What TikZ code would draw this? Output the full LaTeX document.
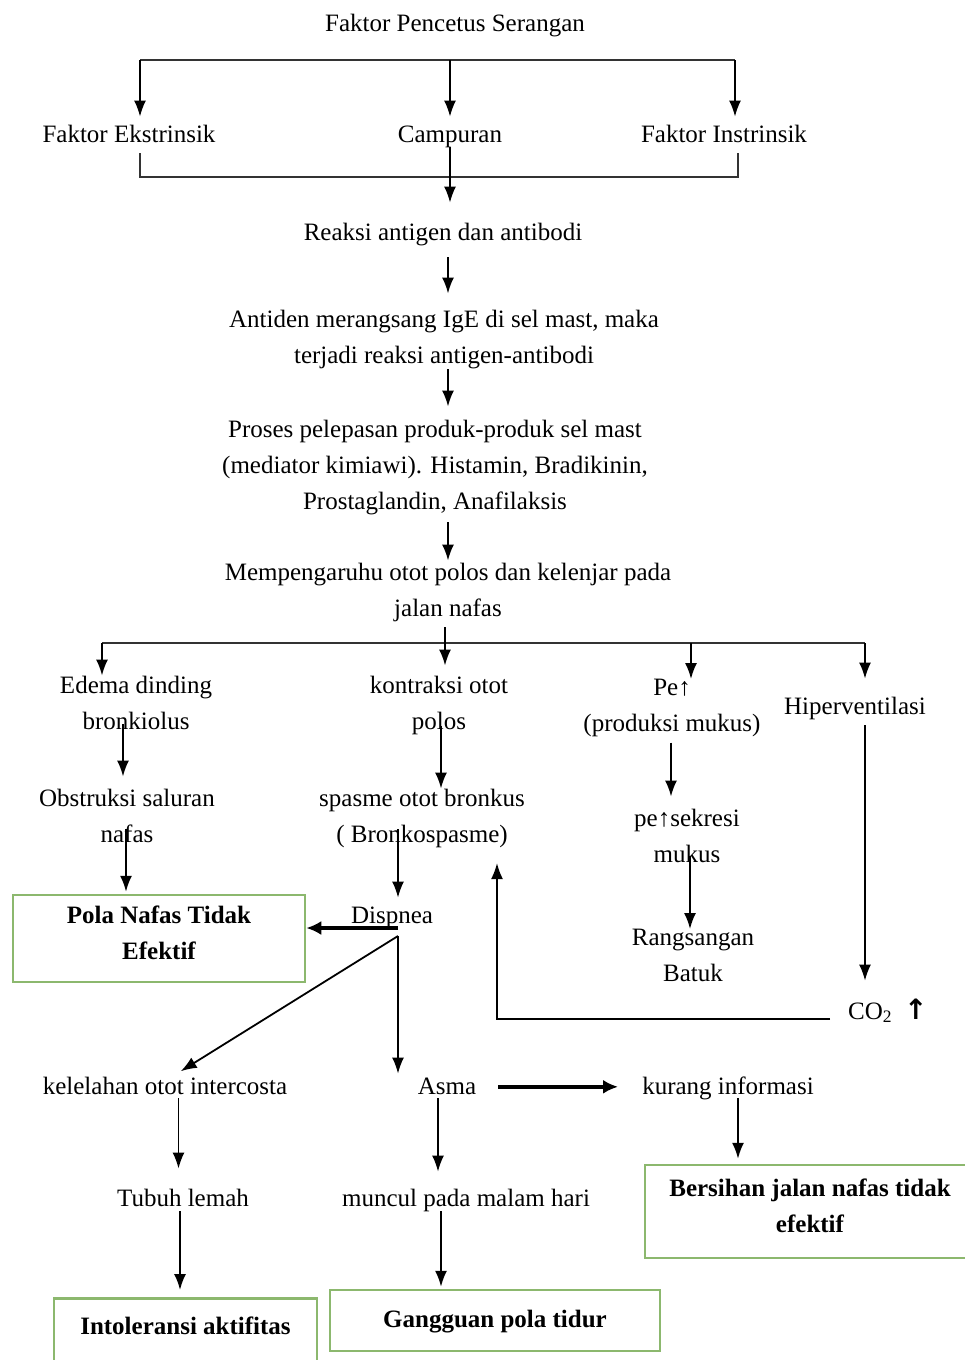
\documentclass[tikz,border=0pt]{standalone}
\usepackage{fontspec}
\setmainfont{Liberation Serif}
\newfontfamily\arrowfont{DejaVu Sans}
\usetikzlibrary{positioning}
\usetikzlibrary{arrows.meta}

\definecolor{boxgreen}{RGB}{140,184,110}

\begin{document}
\begin{tikzpicture}[x=1pt,y=-1pt,every node/.style={font=\fontsize{25}{36}\selectfont,align=center,inner sep=0pt,execute at begin node=\strut,execute at end node=\strut}]
	
	\tikzstyle{arr}=[line width=1.8pt,-{Latex[length=16pt,width=12pt]}]
	\tikzstyle{thick arr}=[line width=3.5pt,-{Latex[length=15pt,width=14pt]}]
	\tikzstyle{bracket}=[line width=1.5pt,draw=black!80]
	\tikzstyle{green box}=[rectangle,draw=boxgreen,line width=2.5pt,font=\fontsize{25}{36}\selectfont\bfseries]
	
	\useasboundingbox (0,0) rectangle (965,1360);
	\clip (0,0) rectangle (965,1360);
	\fill[white] (0,0) rectangle (965,1360);
	
		\node (pencetus) at (455,23.8) {Faktor Pencetus Serangan};
		\node (ekstr) at (129,134.8) {Faktor Ekstrinsik};
		\node (campur) at (450,134.8) {Campuran};
		\node (instr) at (724,134.8) {Faktor Instrinsik};
		\node (reaksi) at (443,232.8) {Reaksi antigen dan antibodi};
		\node (ige) at (444,341.8) {Antiden merangsang IgE di sel mast, maka\\terjadi reaksi antigen-antibodi};
		\node (mediator) at (435,469.8) {Proses pelepasan produk-produk sel mast\\(mediator kimiawi). Histamin, Bradikinin,\\Prostaglandin, Anafilaksis};
		\node (otot) at (448,594.8) {Mempengaruhu otot polos dan kelenjar pada\\jalan nafas};
		
		\node (edema) at (136,707.8) {Edema dinding\\bronkiolus};
		\node (kontraksi) at (439,707.8) {kontraksi otot\\polos};
		\node (mukus) at (672,710.8) {Pe↑\\(produksi mukus)};
		\node (hiper) at (855,706.8) {Hiperventilasi};
		\node (obstruksi) at (127,820.8) {Obstruksi saluran\\nafas};
		\node (spasme) at (422,820.8) {spasme otot bronkus\\( Bronkospasme)};
		\node (sekresi) at (687,840.8) {pe↑sekresi\\mukus};
		\node (batuk) at (693,960.8) {Rangsangan\\Batuk};
		\node (dispnea) at (392,915.8) {Dispnea};
		\node [green box,minimum width=292pt,minimum height=87pt] (polanafas) at (159,938.5) {Pola Nafas Tidak\\Efektif};
		\node [anchor=base west] (co2) at (848,1019) {CO\textsubscript{2}\hspace{12pt}{\arrowfont\fontsize{28}{36}\selectfont\bfseries ↑}};
		
		\node (lelah) at (165,1086.8) {kelelahan otot intercosta};
		\node (asma) at (447,1086.8) {Asma};
		\node (info) at (728,1086.8) {kurang informasi};
		\node (lemah) at (183,1198.8) {Tubuh lemah};
		\node (malam) at (466,1198.8) {muncul pada malam hari};
		\node [green box,minimum width=330pt,minimum height=93pt] (bersihan) at (810,1211.5) {Bersihan jalan nafas tidak\\efektif};
		\node [green box,minimum width=263pt,anchor=north,inner ysep=11pt,text depth=40pt] (intoleransi) at (185.5,1297) {Intoleransi aktifitas};
		\node [green box,minimum width=330pt,minimum height=61pt] (tidur) at (495,1320.5) {Gangguan pola tidur};
		
		% pencetus split
		\coordinate (tl) at (140,60);
		\coordinate (tr) at (735,60);
		\draw[bracket] (tl) -- (tr);
		\draw[arr] (tl) -- (tl |- ekstr.north);
		\draw[arr] (campur.north |- tl) -- (campur.north);
		\draw[arr] (tr) -- (tr |- instr.north);
		\draw[bracket] ([xshift=11pt]ekstr.south) |- ([xshift=14pt,yshift=-24pt]instr.south) -- ([xshift=14pt]instr.south);
		\draw[arr,shorten <=-6pt,shorten >=12pt] (campur.south) -- (campur.south |- reaksi.north);
		
		% main chain
		\coordinate (spine) at (448,0);
		\draw[arr,shorten <=6pt,shorten >=16pt] (spine |- reaksi.south) -- (spine |- ige.north);
		\draw[arr,shorten <=-5pt,shorten >=13pt] (spine |- ige.south) -- (spine |- mediator.north);
		\draw[arr,shorten <=2pt,shorten >=2pt] (spine |- mediator.south) -- (spine |- otot.north);
		
		% otot split
		\coordinate (ml) at (102,643);
		\coordinate (mp) at (691,643);
		\coordinate (mr) at (865,643);
		\draw[bracket] (ml) -- (mr);
		\draw[arr] (ml) -- (ml |- edema.north);
		\draw[arr,shorten >=10pt] ([xshift=-3pt]spine |- otot.south) -- ([xshift=-3pt]spine |- kontraksi.north);
		\draw[arr] (mp) -- (mp |- mukus.north);
		\draw[arr,shorten >=10pt] (mr) -- (mr |- hiper.north);
		
		\draw[arr,shorten <=-16pt,shorten >=12pt] ([xshift=-13pt]edema.south) -- ([xshift=-13pt]edema.south |- obstruksi.north);
		\draw[arr,shorten <=-24pt,shorten >=2pt] ([xshift=-1pt]obstruksi.south) -- ([xshift=-1pt]obstruksi.south |- polanafas.north);
		\draw[arr,shorten <=-14pt] ([xshift=2pt]kontraksi.south) -- ([xshift=2pt]kontraksi.south |- spasme.north);
		
		\coordinate (dj) at ([xshift=6pt,yshift=-2pt]dispnea.south);
		\coordinate (dl) at ([xshift=6pt,yshift=6pt]dispnea.south);
		\draw[arr,shorten <=-24pt] (dj |- spasme.south) -- (dj |- dispnea.north);
		\draw[thick arr] (dl) -- (dl -| polanafas.east);
		\draw[arr,shorten >=-5pt] (dj) -- (dj |- asma.north);
		\draw[arr,shorten >=-5pt] (dj) -- ([xshift=20pt]lelah.north);
		
		\draw[arr,shorten >=12pt] ([xshift=-1pt]mukus.south) -- ([xshift=-1pt]mukus.south |- sekresi.north);
		\draw[arr,shorten <=-17pt] ([xshift=3pt]sekresi.south) -- ([xshift=3pt]sekresi.south |- batuk.north);
		\draw[arr,shorten >=13pt] (mr |- hiper.south) -- (mr |- co2.north);
		\draw[arr,shorten <=18pt,shorten >=10pt] (co2.base west) -| ([xshift=75pt]spasme.south);
		
		% bottom rows
		\draw[thick arr,shorten <=22pt,shorten >=24pt] (asma.east) -- (info.west);
		\draw[arr,shorten <=-7pt,shorten >=12pt] ([xshift=13.5pt]lelah.south) -- ([xshift=13.5pt]lelah.south |- lemah.north);
		\draw[arr,shorten <=-7pt,shorten >=9pt] ([xshift=-9pt]asma.south) -- ([xshift=-9pt]asma.south |- malam.north);
		\draw[arr,shorten <=-7pt,shorten >=5pt] ([xshift=10pt]info.south) -- ([xshift=10pt]info.south |- bersihan.north);
		\draw[arr,shorten <=-6pt,shorten >=7pt] ([xshift=-3pt]lemah.south) -- ([xshift=-3pt]lemah.south |- intoleransi.north);
		\draw[arr,shorten <=-6pt,shorten >=2pt] ([xshift=-25pt]malam.south) -- ([xshift=-25pt]malam.south |- tidur.north);
	
\end{tikzpicture}
\end{document}
